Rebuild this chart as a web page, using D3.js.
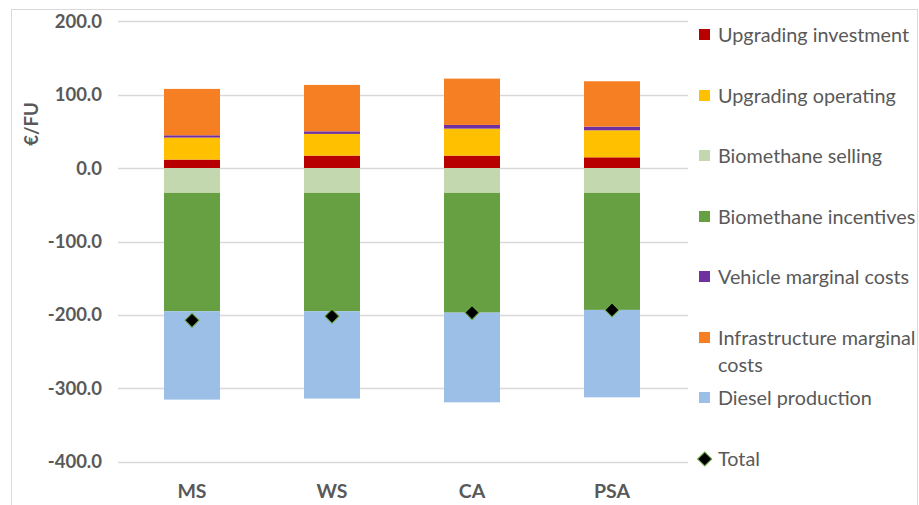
<!DOCTYPE html>
<html>
<head>
<meta charset="utf-8">
<script src="https://cdn.jsdelivr.net/npm/d3@7"></script>
<style>
  body { margin: 0; background: #fff; }
  svg text { font-family: Lato, "Open Sans", sans-serif; fill: #595959; }
</style>
</head>
<body>
<div id="chart"></div>
<script>
(function() {
"use strict";

var categories = ["MS", "WS", "CA", "PSA"];
var seriesNames = ["Upgrading investment", "Upgrading operating", "Biomethane selling",
    "Biomethane incentives", "Vehicle marginal costs", "Infrastructure marginal costs",
    "Diesel production"];
var upgradingInvestment = [11.6, 17.0, 17.0, 14.7];
var upgradingOperating = [30.0, 29.6, 36.8, 36.8];
var biomethaneSelling = [-33.8, -33.8, -33.8, -33.8];
var biomethaneIncentives = [-161.3, -161.3, -163.1, -159.4];
var vehicleMarginal = [3.1, 3.5, 5.0, 5.0];
var infrastructureMarginal = [63.2, 63.2, 63.1, 61.8];
var dieselProduction = [-120.3, -118.9, -122.2, -119.1];
var total = [-207.4, -201.9, -196.9, -193.2];
var yTicks = [200, 100, 0, -100, -200, -300, -400];

var colors = ["#b80000", "#ffc000", "#c4d8b0", "#66a043", "#7030a0", "#f57f22", "#9bbfe6"];
var seriesValues = [upgradingInvestment, upgradingOperating, biomethaneSelling,
    biomethaneIncentives, vehicleMarginal, infrastructureMarginal, dieselProduction];

var rows = categories.map(function(c, i) {
    var r = {cat: c, total: total[i]};
    seriesNames.forEach(function(s, k) { r[s] = seriesValues[k][i]; });
    return r;
});

var W = 919, H = 505;
var svg = d3.select("#chart").append("svg")
    .attr("width", W).attr("height", H);

// outer chart border
svg.append("rect")
    .attr("x", 11.5).attr("y", 9.5)
    .attr("width", 906).attr("height", 520)
    .attr("fill", "none").attr("stroke", "#d9d9d9");

var y = d3.scaleLinear().domain([-400, 200]).range([461.7, 21.3]);
var x = d3.scaleBand().domain(categories).range([122, 682])
    .paddingInner(0.6).paddingOuter(0.3);

// gridlines
svg.append("g").selectAll("line")
    .data(yTicks).enter().append("line")
    .attr("x1", 118).attr("x2", 688)
    .attr("y1", function(d) { return Math.round(y(d)) + 0.5; })
    .attr("y2", function(d) { return Math.round(y(d)) + 0.5; })
    .attr("stroke", "#d9d9d9").attr("stroke-width", 1.3);

// y tick labels (plain hyphen minus, as in the original)
svg.append("g").selectAll("text")
    .data(yTicks).enter().append("text")
    .attr("x", 102)
    .attr("y", function(d) { return y(d) + 6.5; })
    .attr("text-anchor", "end")
    .style("font-size", "18.5px").style("font-weight", "bold")
    .text(function(d) { return d.toFixed(1); });

svg.append("text")
    .attr("transform", "translate(38,124) rotate(-90)")
    .attr("text-anchor", "middle")
    .style("font-size", "18.5px").style("font-weight", "bold")
    .text("€/FU");

// stacked bars
var stack = d3.stack().keys(seriesNames).offset(d3.stackOffsetDiverging);
var layers = stack(rows);

svg.append("g").selectAll("g")
    .data(layers).enter().append("g")
    .attr("fill", function(d, i) { return colors[i]; })
    .selectAll("rect")
    .data(function(d) { return d; }).enter().append("rect")
    .attr("x", function(d) { return x(d.data.cat); })
    .attr("width", x.bandwidth())
    .attr("y", function(d) { return y(Math.max(d[0], d[1])); })
    .attr("height", function(d) { return Math.abs(y(d[0]) - y(d[1])); });

// total markers
var diamond = d3.symbol().type(d3.symbolSquare).size(100);
svg.append("g").selectAll("path")
    .data(rows).enter().append("path")
    .attr("d", diamond)
    .attr("transform", function(d) {
        return "translate(" + (x(d.cat) + x.bandwidth() / 2) + "," + y(d.total) + ") rotate(45)";
    })
    .attr("fill", "#000").attr("stroke", "#70ad47").attr("stroke-width", 1);

// category labels
svg.append("g").selectAll("text")
    .data(categories).enter().append("text")
    .attr("x", function(d) { return x(d) + x.bandwidth() / 2; })
    .attr("y", 497.5)
    .attr("text-anchor", "middle")
    .style("font-size", "19.5px").style("font-weight", "bold")
    .text(function(d) { return d; });

// legend
var legendY = [35, 96, 156, 217, 277, 338, 398];
var legend = svg.append("g");
seriesNames.forEach(function(s, i) {
    legend.append("rect")
        .attr("x", 699).attr("y", legendY[i] - 6)
        .attr("width", 11).attr("height", 11)
        .attr("fill", colors[i]);
    var t = legend.append("text")
        .attr("x", 718).attr("y", legendY[i] + 6.5)
        .style("font-size", "19.8px");
    if (s === "Infrastructure marginal costs") {
        t.append("tspan").text("Infrastructure marginal");
        t.append("tspan").attr("x", 718).attr("dy", 27).text("costs");
    } else {
        t.text(s);
    }
});
legend.append("path")
    .attr("d", diamond)
    .attr("transform", "translate(704.7,459) rotate(45)")
    .attr("fill", "#000").attr("stroke", "#70ad47").attr("stroke-width", 1);
legend.append("text")
    .attr("x", 718).attr("y", 459 + 6.5)
    .style("font-size", "19.8px")
    .text("Total");

})();
</script>
</body>
</html>
